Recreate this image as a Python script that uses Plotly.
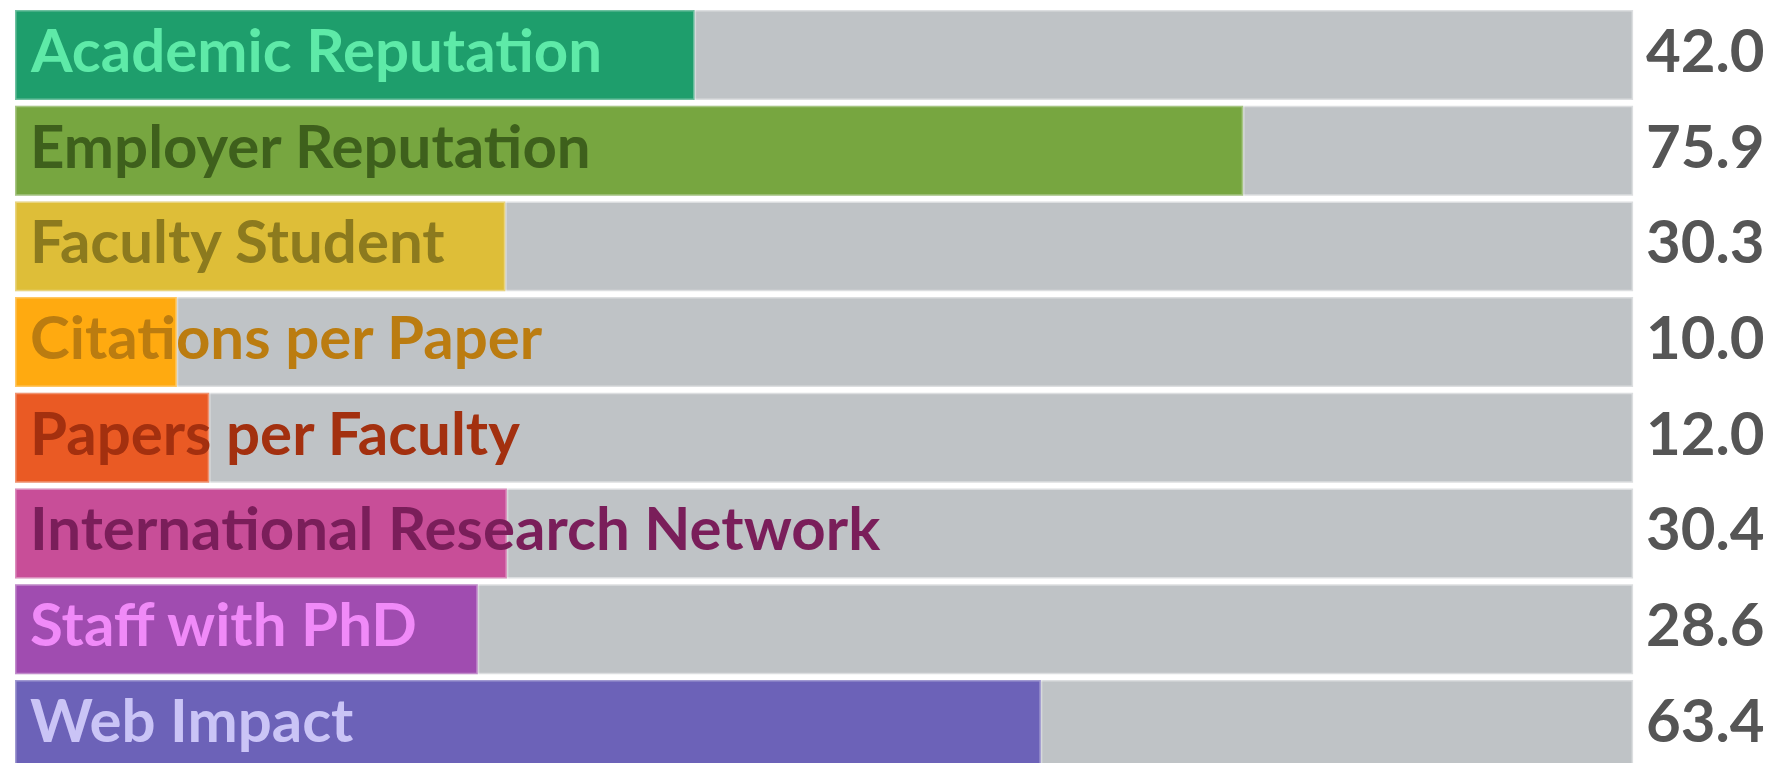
import plotly.graph_objects as go

categories = ["Academic Reputation", "Employer Reputation", "Faculty Student",
              "Citations per Paper", "Papers per Faculty",
              "International Research Network", "Staff with PhD", "Web Impact"]
scores = [42.0, 75.9, 30.3, 10.0, 12.0, 30.4, 28.6, 63.4]
max_score = [100] * len(categories)
bar_colors = ["#1E9E6C", "#77A640", "#DEBE38", "#FFAA10",
              "#EA5A24", "#C84E98", "#A04CB0", "#6C62B8"]
label_colors = ["#5EEAA8", "#3E601C", "#8C7A1E", "#BB7C10",
                "#A3300F", "#7A1E5A", "#F08AF8", "#CAC4F6"]

fig = go.Figure()
fig.add_trace(go.Bar(
    y=categories, x=max_score, orientation="h",
    marker=dict(color="#BFC3C6", line=dict(color="rgba(255,255,255,0.45)", width=3)),
    hoverinfo="skip", showlegend=False))
fig.add_trace(go.Bar(
    y=categories, x=scores, orientation="h",
    marker=dict(color=bar_colors, line=dict(color="rgba(255,255,255,0.35)", width=3)),
    showlegend=False))

for cat, s, lc in zip(categories, scores, label_colors):
    fig.add_annotation(x=0, y=cat, text=cat, xanchor="left", yanchor="middle",
                       xshift=13, yshift=6, showarrow=False,
                       font=dict(family="Lato", size=60, color=lc, weight=700))
    fig.add_annotation(x=100, y=cat, text=f"{s:.1f}", xanchor="left", yanchor="middle",
                       xshift=11, yshift=6, showarrow=False,
                       font=dict(family="Lato", size=60, color="#555555", weight=700))

fig.update_layout(
    width=1778, height=763,
    margin=dict(l=0, r=0, t=0, b=0),
    barmode="overlay", bargap=0.06,
    paper_bgcolor="white", plot_bgcolor="white",
    xaxis=dict(range=[-0.433, 109.45], visible=False, fixedrange=True),
    yaxis=dict(type="category", categoryorder="array", categoryarray=categories,
               range=[7.482, -0.491], visible=False, fixedrange=True),
)
fig.write_html("out.html")
